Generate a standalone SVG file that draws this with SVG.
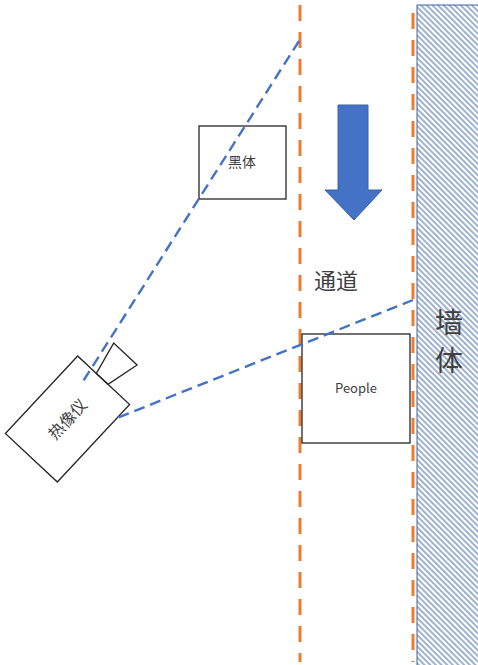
<svg xmlns="http://www.w3.org/2000/svg" width="478" height="665" viewBox="0 0 478 665">
<style>
.box{fill:none;stroke:#262626;stroke-width:1.3}
.lbl{font-family:"Noto Sans CJK SC","Noto Sans",sans-serif;fill:#404040}
.orange{stroke:#ED7D31;stroke-width:3;stroke-dasharray:16 11;fill:none}
.ray{stroke:#4472C4;stroke-width:2.4;stroke-dasharray:11 6;fill:none}
</style>
<defs>
<pattern id="hatch" width="4" height="4" patternUnits="userSpaceOnUse" patternTransform="rotate(45)">
<line x1="0" y1="2" x2="4" y2="2" stroke="#5E7FB0" stroke-width="1.2"/>
</pattern>
</defs>
<rect width="478" height="665" fill="#ffffff"/>
<g id="wall">
<rect x="417" y="5" width="62" height="661" fill="url(#hatch)" stroke="#3F64A0" stroke-width="1"/>
<text class="lbl" x="449" y="333" font-size="28" text-anchor="middle" fill="#262626">墙</text>
<text class="lbl" x="449" y="371" font-size="28" text-anchor="middle" fill="#262626">体</text>
</g>
<g id="channel-lines">
<line class="orange" x1="300" y1="5" x2="300" y2="662"/>
<line class="orange" x1="413" y1="13" x2="413" y2="662"/>
</g>
<g id="arrow">
<polygon points="338,105 368,105 368,190 382,190 354,220 325,190 338,190" fill="#4472C4" stroke="#3A63AD" stroke-width="1"/>
</g>
<g id="channel-label">
<text class="lbl" x="314" y="289" font-size="22" fill="#262626">通道</text>
</g>
<g id="blackbody">
<rect class="box" x="199" y="126" width="87" height="73"/>
<text class="lbl" x="242" y="167" font-size="14" text-anchor="middle">黑体</text>
</g>
<g id="people">
<rect class="box" x="302" y="334" width="108" height="109"/>
<text class="lbl" x="356" y="393" font-size="13" text-anchor="middle" font-family="Noto Sans, sans-serif">People</text>
</g>
<g id="camera" transform="translate(67.5 419) rotate(-47)">
<rect class="box" x="-53" y="-35.5" width="106" height="71" fill="#ffffff"/>
<polygon class="box" points="53,-10 53,6 87,14 87,-18" fill="#ffffff"/>
<text class="lbl" x="0" y="6" font-size="16" text-anchor="middle">热像仪</text>
</g>
<g id="connectors">
<line class="ray" x1="299" y1="41" x2="82" y2="383"/>
<line class="ray" x1="413" y1="300" x2="117" y2="418"/>
</g>
</svg>
